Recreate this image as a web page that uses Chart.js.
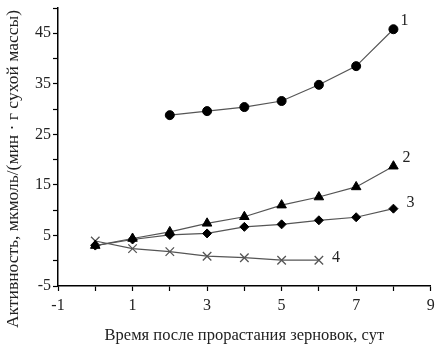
<!DOCTYPE html>
<html lang="ru">

<head>
    <meta charset="UTF-8">
    <title>Активность</title>
    <style>
        body { margin: 0; background: #fff; }
    </style>
</head>

<body>
    <canvas id="myChart" width="438" height="346"></canvas>

    <script src="https://cdn.jsdelivr.net/npm/chart.js@4"></script>
    <script>
        // days after germination
        var days = [0, 1, 2, 3, 4, 5, 6, 7, 8];
        // curves 1..4 (null = no measurement)
        var curve1 = [null, null, 28.8, 29.6, 30.4, 31.6, 34.8, 38.5, 45.8];
        var curve2 = [3.0, 4.4, 5.7, 7.4, 8.7, 11.0, 12.6, 14.6, 18.7];
        var curve3 = [3.0, 4.2, 5.1, 5.4, 6.7, 7.2, 8.0, 8.6, 10.3];
        var curve4 = [3.9, 2.4, 1.8, 0.9, 0.6, 0.1, 0.1, null, null];
        var curveNames = ['1', '2', '3', '4'];

        var xTitle = 'Время после прорастания зерновок, сут';
        var yTitle = 'Активность, мкмоль/(мин · г сухой массы)';
        var serif = '"Liberation Serif", "DejaVu Serif", serif';
        var lineCol = '#555';

        // number labels next to the last point of each curve
        var curveLabels = {
            id: 'curveLabels',
            afterDatasetsDraw: function (chart) {
                var ctx = chart.ctx;
                var offs = [[7, -8], [9, -8], [13, -6], [13, -2]];
                ctx.save();
                ctx.font = '16px ' + serif;
                ctx.fillStyle = '#222';
                ctx.textBaseline = 'middle';
                chart.data.datasets.forEach(function (ds, i) {
                    var pts = chart.getDatasetMeta(i).data.filter(function (p, j) { return ds.data[j] !== null; });
                    var last = pts[pts.length - 1];
                    ctx.fillText(curveNames[i], last.x + offs[i][0], last.y + offs[i][1]);
                });
                ctx.restore();
            }
        };

        // y title drawn by hand so it can sit a bit lower than the axis centre
        var yTitlePlugin = {
            id: 'yTitlePlugin',
            afterDraw: function (chart) {
                var ctx = chart.ctx;
                ctx.save();
                ctx.translate(13, 169);
                ctx.rotate(-Math.PI / 2);
                ctx.font = '17.5px ' + serif;
                ctx.fillStyle = '#222';
                ctx.textAlign = 'center';
                ctx.textBaseline = 'middle';
                ctx.fillText(yTitle, 0, 0);
                ctx.restore();
            }
        };

        function mkSet(data, style, radius, fill) {
            return {
                data: data,
                borderColor: lineCol,
                borderWidth: 1.2,
                pointStyle: style,
                pointRadius: radius,
                pointBackgroundColor: fill,
                pointBorderColor: fill === 'transparent' ? '#555' : '#000',
                pointBorderWidth: fill === 'transparent' ? 1.3 : 1,
                tension: 0,
                spanGaps: false
            };
        }

        var ctx = document.getElementById('myChart').getContext('2d');
        var chart = new Chart(ctx, {
            type: 'line',
            data: {
                labels: days,
                datasets: [
                    mkSet(curve1, 'circle', 4.5, '#000'),
                    mkSet(curve2, 'triangle', 5.5, '#000'),
                    mkSet(curve3, 'rectRot', 4.5, '#000'),
                    mkSet(curve4, 'crossRot', 6, 'transparent')
                ]
            },
            plugins: [curveLabels, yTitlePlugin],
            options: {
                responsive: false,
                animation: false,
                devicePixelRatio: 1,
                layout: { padding: { top: 8, right: 3, left: 0, bottom: 0 } },
                plugins: { legend: { display: false }, tooltip: { enabled: false } },
                scales: {
                    x: {
                        type: 'linear',
                        min: -1,
                        max: 9,
                        afterFit: function (s) { s.height = 60; s.paddingLeft = 0; s.paddingRight = 0; },
                        border: { color: '#000', width: 1.5 },
                        grid: { drawOnChartArea: false, color: '#000', tickLength: 5, tickWidth: 1.2 },
                        ticks: {
                            stepSize: 1,
                            autoSkip: false,
                            maxRotation: 0,
                            padding: 5,
                            color: '#222',
                            font: { family: serif, size: 16 },
                            callback: function (v) { return (v + 1) % 2 === 0 ? String(v) : ''; }
                        },
                        title: {
                            display: true,
                            text: xTitle,
                            color: '#222',
                            font: { family: serif, size: 16.5 },
                            padding: { top: 2, bottom: 0 }
                        }
                    },
                    y: {
                        min: -5,
                        max: 50,
                        afterFit: function (s) { s.width = 58; s.paddingTop = 0; s.paddingBottom = 0; },
                        border: { color: '#000', width: 1.5 },
                        grid: { drawOnChartArea: false, color: '#000', tickLength: 5, tickWidth: 1.2 },
                        ticks: {
                            stepSize: 5,
                            autoSkip: false,
                            padding: 2,
                            color: '#222',
                            font: { family: serif, size: 16 },
                            callback: function (v) { return (v + 5) % 10 === 0 ? String(v) : ''; }
                        }
                    }
                }
            }
        });
    </script>
</body>

</html>
